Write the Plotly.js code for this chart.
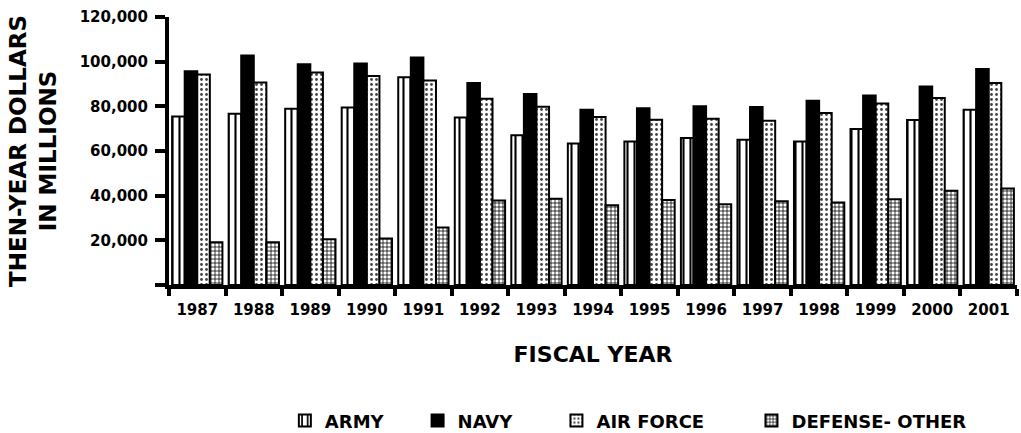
<!DOCTYPE html>
<html>
<head>
<meta charset="utf-8">
<script src="https://cdn.plot.ly/plotly-3.0.1.min.js"></script>
<style>html,body{margin:0;padding:0;background:#fff;}#chart{width:1021px;height:433px;}</style>
</head>
<body>
<div id="chart"></div>
<script>
const years = ['1987','1988','1989','1990','1991','1992','1993','1994','1995','1996','1997','1998','1999','2000','2001'];
const army = [75500, 76700, 78900, 79500, 93000, 75000, 67000, 63400, 64300, 65800, 65000, 64300, 69800, 73900, 78500];
const navy = [95700, 102800, 98800, 99200, 101900, 90400, 85500, 78500, 79100, 80000, 79700, 82500, 84900, 88900, 96700];
const airForce = [94200, 90700, 95200, 93600, 91600, 83400, 79800, 75200, 74000, 74400, 73500, 77000, 81300, 83700, 90400];
const defenseOther = [19100, 19100, 20500, 20800, 25700, 37800, 38600, 35700, 38100, 36200, 37500, 36900, 38400, 42200, 43200];
const seriesNames = ['ARMY', 'NAVY', 'AIR FORCE', 'DEFENSE- OTHER'];
const yTickVals = [0, 20000, 40000, 60000, 80000, 100000, 120000];
const yTickText = ['', '20,000', '40,000', '60,000', '80,000', '100,000', '120,000'];

const FONT = 'DejaVu Sans, Arial, sans-serif';
const line = {color: 'black', width: 2};

const traces = [
  {type: 'bar', name: seriesNames[0], x: years, y: army, legend: 'legend',
   marker: {color: 'white', line: line, pattern: {shape: '|', size: 7, solidity: 0.3, fgcolor: 'black', bgcolor: 'white', fillmode: 'replace'}}},
  {type: 'bar', name: seriesNames[1], x: years, y: navy, legend: 'legend2',
   marker: {color: 'black', line: line}},
  {type: 'bar', name: seriesNames[2], x: years, y: airForce, legend: 'legend3',
   marker: {color: 'white', line: line, pattern: {shape: '.', size: 5, solidity: 0.25, fgcolor: '#444', bgcolor: 'white', fillmode: 'replace'}}},
  {type: 'bar', name: seriesNames[3], x: years, y: defenseOther, legend: 'legend4',
   marker: {color: 'white', line: line, pattern: {shape: '+', size: 4, solidity: 0.35, fgcolor: 'black', bgcolor: 'white', fillmode: 'replace'}}}
];

const legendFont = {family: FONT, size: 18, weight: 'bold', color: 'black'};
function leg(x) {
  return {orientation: 'h', xref: 'container', yref: 'container', x: x, xanchor: 'left', y: 0.028, yanchor: 'middle',
          itemwidth: 30, font: legendFont, bgcolor: 'rgba(0,0,0,0)'};
}

const layout = {
  width: 1021, height: 433,
  margin: {l: 169, r: 4, t: 17, b: 148, autoexpand: false},
  paper_bgcolor: 'white', plot_bgcolor: 'white',
  barmode: 'group', bargap: 0.11, bargroupgap: 0,
  showlegend: true,
  font: {family: FONT, color: 'black', weight: 'bold'},
  xaxis: {
    type: 'category', automargin: false,
    showline: true, linecolor: 'black', linewidth: 4,
    ticks: 'outside', tickson: 'boundaries', ticklen: 7, tickwidth: 4, tickcolor: 'black',
    tickfont: {family: FONT, size: 15, weight: 'bold', color: 'black'},
    ticklabelstandoff: 8,
    showgrid: false, zeroline: false,
    title: {text: 'FISCAL YEAR', font: {family: FONT, size: 22, weight: 'bold', color: 'black'}, standoff: 30}
  },
  yaxis: {
    range: [0, 120000], automargin: false,
    showline: true, linecolor: 'black', linewidth: 4,
    ticks: 'outside', ticklen: 10, tickwidth: 4, tickcolor: 'black',
    tickvals: yTickVals, ticktext: yTickText,
    tickfont: {family: FONT, size: 15, weight: 'bold', color: 'black'},
    ticklabelstandoff: 4,
    showgrid: false, zeroline: false,
    title: {text: 'THEN-YEAR DOLLARS<br>IN MILLIONS', font: {family: FONT, size: 23, weight: 'bold', color: 'black'}, standoff: 18}
  },
  legend: leg(0.279),
  legend2: leg(0.409),
  legend3: leg(0.545),
  legend4: leg(0.736)
};

Plotly.newPlot('chart', traces, layout, {displayModeBar: false, staticPlot: true});
</script>
</body>
</html>
